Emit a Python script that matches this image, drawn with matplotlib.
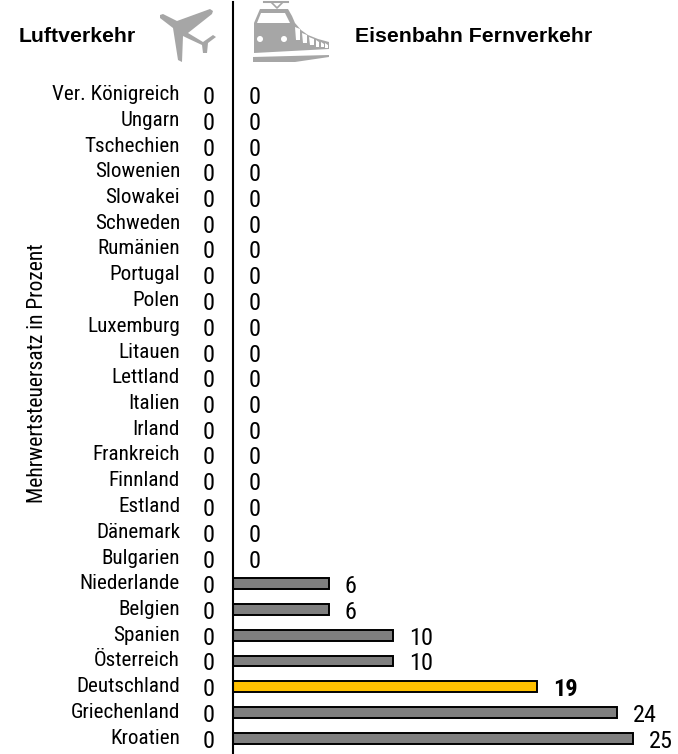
import numpy as np
import matplotlib
matplotlib.use("Agg")
import matplotlib.pyplot as plt
from matplotlib.patches import Polygon, Circle

countries = ["Ver. Königreich", "Ungarn", "Tschechien", "Slowenien", "Slowakei", "Schweden",
	"Rumänien", "Portugal", "Polen", "Luxemburg", "Litauen", "Lettland", "Italien", "Irland",
	"Frankreich", "Finnland", "Estland", "Dänemark", "Bulgarien", "Niederlande", "Belgien",
	"Spanien", "Österreich", "Deutschland", "Griechenland", "Kroatien"]
air = [0] * 26
rail = [0, 0, 0, 0, 0, 0, 0, 0, 0, 0, 0, 0, 0, 0, 0, 0, 0, 0, 0, 6, 6, 10, 10, 19, 24, 25]
highlight = "Deutschland"

W, H = 678, 754
FONT = ["Roboto Condensed", "Roboto", "DejaVu Sans"]

def main():
	fig = plt.figure(figsize=(W / 100, H / 100), dpi=100)

	# axes spans from the centre line to the right edge, 16 px per unit, 25.75 px per row
	ax = fig.add_axes([233 / W, 0, (W - 233) / W, (H - 2) / H])
	ax.set_xlim(0, (W - 233) / 16)
	ax.set_ylim((H - 94.5) / 25.75, (2 - 94.5) / 25.75)
	ax.axis("off")
	ax.patch.set_alpha(0)
	ax.axvline(0, color="black", lw=1.5, zorder=5, clip_on=False)

	y = np.arange(len(countries))
	colors = ["#FFC000" if c == highlight else "#7F7F7F" for c in countries]
	ax.barh(y, rail, height=0.42, color=colors, edgecolor="black", lw=1.4)

	for i, c in enumerate(countries):
		ax.annotate(c, (0, i), xytext=(-53, 0), textcoords="offset pixels", ha="right",
			va="center", fontsize=15.2, family=FONT, annotation_clip=False)
		ax.annotate(str(air[i]), (0, i), xytext=(-24, -3), textcoords="offset pixels", ha="center",
			va="center", fontsize=17.5, family=FONT, annotation_clip=False)
		bold = "bold" if c == highlight else "normal"
		ax.annotate(str(rail[i]), (rail[i], i), xytext=(16, -3), textcoords="offset pixels", ha="left",
			va="center", fontsize=17.5, family=FONT, weight=bold, annotation_clip=False)

	fig.text(19 / W, 1 - 36 / H, "Luftverkehr", weight="bold", fontsize=15.3, va="center",
		family="Liberation Sans")
	fig.text(355 / W, 1 - 36 / H, "Eisenbahn Fernverkehr", weight="bold", fontsize=15.3, va="center",
		family="Liberation Sans")
	fig.text(38 / W, 1 - 373 / H, "Mehrwertsteuersatz in Prozent", rotation=90, ha="center",
		va="center", fontsize=15.5, family=FONT)

	# icons, pixel coordinates
	icons = fig.add_axes([0, 0, 1, 1])
	icons.set_xlim(0, W)
	icons.set_ylim(H, 0)
	icons.axis("off")
	icons.patch.set_alpha(0)
	gray = "#A6A6A6"
	plane = [(160, 15), (163, 14), (177, 21), (210, 9), (213, 11), (212, 14), (188, 33), (203, 42),
		(213, 35), (216, 37), (208, 43), (207, 53), (203, 53), (202, 45), (187, 38), (183, 36),
		(182, 62), (178, 60), (173, 28), (160, 18)]
	icons.add_patch(Polygon(plane, color=gray, lw=0))

	body = [(260, 9), (288, 9), (292, 16), (295, 23), (301, 30), (308, 35), (318, 39), (329, 42),
		(329, 49), (254, 53), (254, 23)]
	icons.add_patch(Polygon(body, color=gray, lw=0))
	icons.add_patch(Polygon([(257, 23), (261, 13), (285, 13), (290, 23)], color="white", lw=0))
	side = [(295, 296, 300, 27, 40), (302, 303, 307, 33, 43), (309, 310, 314, 37, 45),
		(316, 316, 319, 40, 47), (321, 321, 324, 42, 47), (325, 325, 328, 43, 48)]
	for x0, x1, x2, y0, y1 in side:
		icons.add_patch(Polygon([(x0, y0), (x2, y0 + 2), (x2, y1), (x1, y1)], color="white", lw=0))
	for cx in (260, 284):
		icons.add_patch(Circle((cx, 39), 3, color="white", lw=0))
	icons.add_patch(Polygon([(253, 57), (329, 55), (329, 57), (295, 62), (253, 62)], color=gray, lw=0))
	icons.plot([264, 288], [2, 2], color=gray, lw=1.5)
	icons.plot([272, 277, 282], [3, 8, 3], color=gray, lw=1.2)

	fig.savefig("out.png", dpi=100)

if __name__ == "__main__":
	main()
